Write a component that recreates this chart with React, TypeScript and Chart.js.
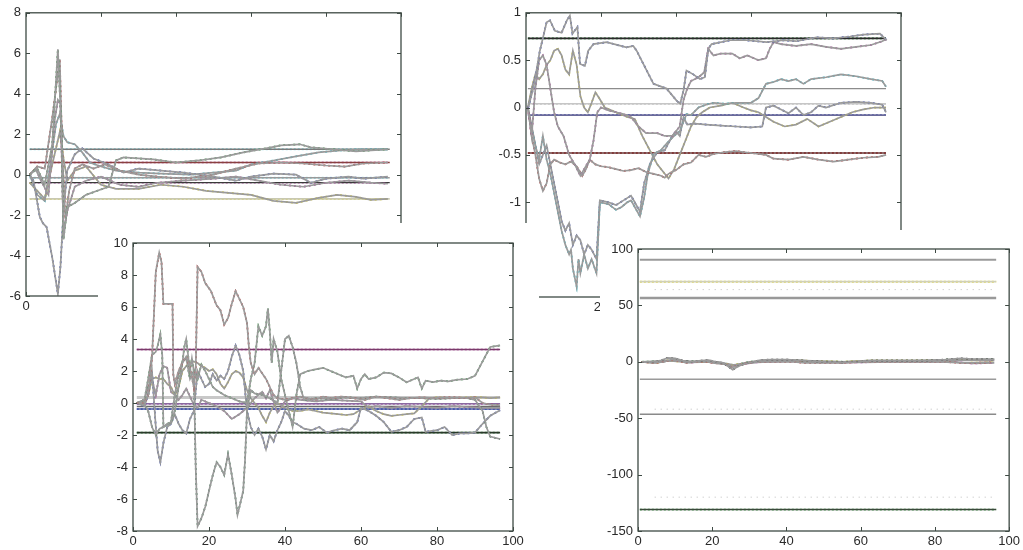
import React, { useEffect, useRef } from "react";
import { Chart, registerables } from "chart.js";

Chart.register(...registerables);

type Pt = [number, number];

// ---------------- Panel 1 (top-left) ----------------
const p1XTicks = [0, 2, 4, 6, 8, 10];
const p1YTicks = [-6, -4, -2, 0, 2, 4, 6, 8];
const p1Truth = [1.25, 0.6, -0.15, -0.4, -1.2];
const p1Span: Pt = [0.1, 9.7];
const p1Green: Pt[] = [[0.1,0],[0.3,0.3],[0.5,-0.5],[0.7,1.5],[0.85,6.2],[0.95,2.0],[1.0,-3.2],[1.1,-1.6],[1.3,-1.4],[1.6,-1.0],[1.9,-0.8],[2.2,-0.6],[2.4,0.7],[2.6,0.85],[3.0,0.8],[3.4,0.75],[4.0,0.6],[4.6,0.7],[5.2,0.85],[5.8,1.1],[6.4,1.3],[6.8,1.45],[7.3,1.5],[7.6,1.35],[8.2,1.25],[8.8,1.15],[9.2,1.2],[9.65,1.25]];
const p1Red: Pt[] = [[0.1,0],[0.3,0.4],[0.5,0.3],[0.7,2.8],[0.9,5.7],[0.97,1.0],[1.05,-2.2],[1.15,-0.8],[1.3,0.3],[1.5,0.5],[1.8,0.3],[2.1,0.5],[2.5,0.2],[3.0,0.0],[3.5,-0.1],[4.2,-0.2],[5.0,0.0],[5.6,0.3],[6.2,0.55],[6.8,0.6],[7.4,0.55],[8.0,0.45],[8.5,0.4],[9.0,0.55],[9.65,0.6]];
const p1Blue: Pt[] = [[0.1,0],[0.2,-0.3],[0.37,-2.1],[0.45,-2.4],[0.55,-2.6],[0.7,-4.1],[0.85,-5.9],[0.92,-4.5],[1.0,-1.8],[1.1,0.2],[1.3,1.0],[1.5,1.3],[1.8,0.8],[2.2,0.5],[2.6,0.1],[3.0,0.3],[3.6,0.2],[4.2,0.1],[5.0,-0.1],[5.6,-0.3],[6.0,-0.1],[6.6,0.05],[7.2,0.0],[7.6,-0.4],[8.0,-0.2],[8.6,-0.1],[9.0,-0.2],[9.65,-0.1]];
const p1Dark: Pt[] = [[0.1,0],[0.25,0.3],[0.4,-0.3],[0.6,-1.0],[0.75,2.5],[0.85,3.7],[0.92,3.5],[1.0,-2.9],[1.1,-1.8],[1.3,-0.6],[1.6,-0.3],[2.0,-0.1],[2.5,-0.5],[3.0,-0.6],[3.5,-0.4],[4.2,-0.3],[5.0,-0.2],[5.6,-0.1],[6.2,-0.3],[6.8,-0.5],[7.4,-0.6],[8.0,-0.4],[8.6,-0.3],[9.2,-0.4],[9.65,-0.45]];
const p1Yellow: Pt[] = [[0.1,-0.4],[0.3,-0.8],[0.5,-1.2],[0.7,0.5],[0.9,2.1],[1.0,0.8],[1.1,-0.3],[1.3,0.2],[1.6,0.4],[2.0,-0.5],[2.4,-0.7],[3.0,-0.7],[3.6,-0.5],[4.2,-0.6],[4.8,-0.8],[5.4,-0.9],[6.0,-1.0],[6.6,-1.3],[7.2,-1.4],[7.8,-1.15],[8.3,-1.0],[8.8,-1.1],[9.2,-1.25],[9.65,-1.2]];
const p1Cyan: Pt[] = [[0.1,0],[0.3,-1.0],[0.5,-1.3],[0.65,0.5],[0.8,2.5],[0.9,3.0],[1.0,1.9],[1.1,1.6],[1.3,1.5],[1.5,1.1],[1.7,0.6],[2.0,0.4],[2.4,0.2],[3.0,0.1],[3.6,0.05],[4.4,0.0],[5.0,0.1],[5.6,0.2],[6.0,0.5],[6.6,0.7],[7.2,0.9],[7.8,1.1],[8.4,1.2],[9.0,1.25],[9.65,1.25]];

// ---------------- Panel 2 (top-right) ----------------
const p2XTicks = [0, 20, 40, 60, 80, 100];
const p2YTicks = [-2, -1.5, -1, -0.5, 0, 0.5, 1];
const p2Truth = [0.73, 0.2, 0.04, -0.08, -0.48];
const p2Span: Pt = [0.5, 96];
const p2Blue: Pt[] = [[0.6,0],[2,0.21],[3.7,0.6],[5.5,0.9],[6.4,0.92],[7.7,0.81],[9.5,0.79],[10.9,0.92],[11.7,0.97],[12.4,0.78],[13.7,0.85],[14.4,0.46],[15.7,0.44],[16.6,0.6],[18,0.67],[21.5,0.69],[26.8,0.635],[28.6,0.65],[29.5,0.6],[32.2,0.39],[34,0.25],[37.5,0.2],[40.2,0.07],[41.1,0.04],[42,0.18],[42.8,0.39],[44.6,0.35],[46.4,0.3],[47.7,0.32],[48.6,0.62],[49.5,0.67],[54.4,0.71],[58.8,0.71],[64.2,0.69],[68.6,0.71],[72,0.7],[77.5,0.74],[82,0.73],[86.4,0.75],[90,0.77],[94.4,0.78],[96.2,0.71]];
const p2Purple: Pt[] = [[0.5,0],[1.5,-0.3],[2.5,0.2],[3.5,0.5],[4.5,0.55],[5.5,0.45],[6.5,0.2],[7.5,-0.05],[8.5,-0.2],[10,-0.3],[11.5,-0.5],[13,-0.6],[14.5,-0.72],[15.5,-0.65],[17,-0.55],[18,-0.35],[19,-0.05],[20,0.0],[22,-0.03],[24,-0.05],[26,-0.07],[28,-0.1],[30,-0.2],[32,-0.27],[35,-0.27],[37,-0.3],[39,-0.3],[40,-0.25],[41,-0.2],[42,0.08],[43,0.2],[44,0.28],[46,0.32],[47.5,0.37],[48.6,0.62],[50,0.55],[52,0.57],[55,0.57],[57,0.52],[59,0.55],[62,0.5],[64,0.52],[65,0.62],[66,0.69],[68,0.67],[72,0.65],[76,0.67],[80,0.64],[84,0.62],[88,0.64],[92,0.66],[95,0.7],[96,0.72]];
const p2Red: Pt[] = [[0.5,0],[1.5,-0.3],[2.5,-0.5],[3.5,-0.75],[4.5,-0.88],[5.5,-0.8],[6.5,-0.6],[7.5,-0.55],[9,-0.58],[10.5,-0.6],[12,-0.57],[13.5,-0.62],[15,-0.72],[16,-0.65],[17,-0.55],[18.5,-0.6],[20,-0.62],[22,-0.63],[24,-0.65],[26,-0.67],[28,-0.66],[30,-0.64],[32,-0.68],[34,-0.7],[36,-0.72],[37,-0.74],[38,-0.7],[40,-0.66],[42,-0.6],[44,-0.58],[46,-0.5],[48,-0.52],[50,-0.49],[53,-0.47],[56,-0.46],[60,-0.48],[64,-0.5],[66,-0.54],[70,-0.55],[74,-0.52],[78,-0.55],[82,-0.57],[86,-0.55],[90,-0.53],[94,-0.52],[96,-0.5]];
const p2Cyan: Pt[] = [[0.5,0],[1.5,-0.2],[2.5,-0.4],[3.5,-0.55],[4.5,-0.3],[5.5,-0.55],[6.5,-0.7],[7.5,-0.9],[8.5,-1.1],[9.5,-1.3],[10.5,-1.45],[11.5,-1.55],[12,-1.5],[12.5,-1.7],[13.5,-1.89],[14,-1.6],[14.5,-1.75],[15.5,-1.55],[16.5,-1.7],[17.5,-1.6],[18.8,-1.75],[19.7,-1.0],[22,-1.02],[24,-1.08],[25.5,-1.05],[27,-1.0],[28,-0.98],[29,-1.05],[30.4,-1.15],[31.5,-0.95],[32.5,-0.7],[34,-0.49],[36,-0.45],[37.5,-0.38],[39.5,-0.3],[41,-0.25],[42.8,-0.07],[44,-0.08],[46,0.0],[48,0.03],[50,0.05],[53,0.04],[56,0.05],[60,0.05],[62,0.1],[64,0.25],[66,0.27],[68,0.3],[70,0.28],[72,0.3],[74,0.25],[76,0.3],[80,0.32],[84,0.35],[88,0.33],[92,0.3],[95,0.28],[96,0.22]];
const p2Green: Pt[] = [[0.5,0],[1.5,-0.2],[2.5,-0.4],[3.5,-0.6],[4.5,-0.5],[5.5,-0.4],[6.5,-0.6],[7.5,-0.8],[8.5,-1.0],[9.5,-1.2],[10.5,-1.3],[11.5,-1.22],[12.5,-1.45],[13.5,-1.35],[14.5,-1.4],[15.5,-1.55],[16.5,-1.45],[17.5,-1.5],[18.8,-1.6],[19.7,-0.98],[22,-1.0],[24,-1.03],[26,-0.98],[28,-0.93],[29,-1.0],[30.4,-1.1],[31.5,-0.8],[33,-0.6],[35,-0.47],[37,-0.45],[39,-0.3],[40,-0.25],[41,-0.3],[42,-0.1],[43,-0.18],[45,-0.17],[48,-0.18],[52,-0.19],[56,-0.2],[60,-0.21],[63,-0.2],[64,0.0],[66,0.02],[68,-0.02],[70,-0.06],[72,0.0],[74,-0.08],[76,-0.05],[78,0.02],[80,0.0],[84,0.05],[88,0.06],[92,0.05],[95,0.03],[96,-0.05]];
const p2Yellow: Pt[] = [[0.5,0],[1.5,0.2],[2.5,0.35],[3.5,0.3],[4.5,0.35],[5.5,0.45],[6.5,0.5],[7.5,0.6],[8.5,0.62],[9.5,0.55],[10.5,0.4],[11.5,0.35],[12.5,0.6],[13.5,0.45],[14.5,0.12],[15.5,0.0],[16.5,-0.05],[17.5,0.05],[18.5,0.16],[19.5,0.1],[21,0.0],[24,-0.05],[27,-0.1],[29,-0.12],[31,-0.3],[33,-0.45],[35,-0.6],[37,-0.7],[38,-0.75],[39.5,-0.65],[41,-0.5],[42.5,-0.35],[44,-0.2],[45.5,-0.1],[47,-0.05],[49,0.0],[52,0.02],[55,0.05],[58,0.0],[60,-0.03],[62,-0.05],[64,-0.1],[66,-0.15],[69,-0.2],[72,-0.18],[75,-0.12],[78,-0.2],[81,-0.15],[84,-0.1],[87,-0.05],[90,-0.02],[93,0.0],[96,0.0]];

// ---------------- Panel 3 (bottom-left) ----------------
const p3XTicks = [0, 20, 40, 60, 80, 100];
const p3YTicks = [-8, -6, -4, -2, 0, 2, 4, 6, 8, 10];
const p3Truth = [3.35, 0.35, -0.05, -0.22, -0.38, -1.85];
const p3Span: Pt = [1, 96.6];
const p3Red: Pt[] = [[1,0],[3,0],[4,0.5],[5,2.8],[5.5,5.5],[6,8.2],[6.9,9.4],[7.5,8.8],[8,6.2],[10.4,6.2],[10.6,1.8],[11,1.2],[12,2.0],[13,2.5],[14,2.9],[15,2.2],[16,1.0],[16.5,2.0],[17,8.5],[18,8.2],[19,7.5],[20.5,7.0],[22,6.1],[23,5.8],[24,4.9],[25,5.3],[26,6.2],[27,7.0],[28,6.5],[29,6.0],[30,5.0],[30.5,3.5],[31,2.5],[32,1.8],[33,2.2],[35,1.5],[36,1.0],[37,0.5],[38,0.3],[40,0.2],[42,0.3],[44,0.4],[46,0.3],[48,0.2],[50,0.4],[52,0.3],[55,0.4],[58,0.3],[61,0.2],[64,0.4],[67,0.3],[70,0.2],[73,0.3],[76,0.35],[79,0.3],[82,0.35],[85,0.35],[88,0.3],[90,0.35],[92,0.0],[94,-0.1],[96.6,-0.15]];
const p3Green: Pt[] = [[1,0],[3,0.2],[4,1.5],[5,3.0],[6,3.2],[6.5,3.6],[7.2,4.3],[7.7,3.0],[8,-1.5],[9,-1.3],[10,-1.2],[11,-0.5],[12,1.0],[13,2.5],[13.5,3.5],[14,4.0],[14.5,3.0],[15,2.0],[15.5,2.8],[16,2.0],[17,1.5],[18,2.4],[19,2.0],[20,1.5],[21,1.0],[22,0.8],[24,0.5],[26,0.3],[28,0.1],[30,0.0],[31,1.5],[32,2.5],[33,4.8],[34,4.2],[35,4.8],[35.5,5.9],[36,4.5],[36.5,2.5],[37,4.0],[38,3.2],[39,1.5],[40,0.5],[41,-0.5],[42,-1.5],[43,0.5],[44,1.8],[46,2.0],[48,2.1],[50,2.2],[52,2.0],[54,1.8],[56,1.6],[58,1.7],[59,0.9],[60,1.5],[61,1.8],[62,1.5],[64,1.6],[66,1.9],[68,1.85],[70,1.6],[72,1.3],[74,1.5],[75,1.6],[76,0.9],[77,1.4],[79,1.3],[81,1.4],[83,1.35],[85,1.45],[88,1.5],[90,1.7],[92,2.6],[94,3.5],[96.6,3.6]];
const p3Gray: Pt[] = [[1,0],[3,-0.1],[4,-0.5],[5,-1.5],[6,-2.0],[7,-1.6],[8,-1.5],[10,-1.2],[11,0.5],[12,1.8],[13,2.6],[14,2.8],[15,1.5],[16,2.0],[16.5,-4.0],[17,-7.7],[18,-7.2],[19,-6.5],[20,-5.5],[21,-4.5],[22,-3.7],[23,-4.0],[24,-4.5],[25,-3.2],[26,-4.5],[27,-6.0],[27.5,-7.0],[28,-6.5],[29,-5.5],[29.5,-3.5],[30,-0.5],[31,0.8],[32,0.6],[34,0.5],[36,0.3],[38,0.0],[40,4.0],[41,4.2],[42,3.5],[43,2.5],[44,1.0],[45,0.2],[48,0.3],[52,0.25],[56,0.35],[60,0.3],[64,0.4],[68,0.35],[72,0.3],[76,0.3],[80,0.25],[84,0.3],[88,0.3],[90,0.2],[92,-0.5],[93,-1.5],[94,-2.1],[96.6,-2.25]];
const p3Blue: Pt[] = [[1,0],[3,-0.2],[4,0.5],[5,2.0],[6,-1.5],[6.5,-3.0],[7.2,-3.7],[8,-2.5],[9,-1.5],[10,-1.3],[11,-0.7],[12,-1.3],[13,-1.7],[14,-1.9],[15,-1.0],[16,-0.5],[17,2.0],[18,1.5],[19,1.0],[20,1.2],[21,1.8],[22,1.4],[23,1.7],[24,1.5],[25,2.0],[26,2.9],[27,3.6],[28,3.0],[29,2.0],[30,-0.5],[31,-1.5],[32,-2.0],[33,-1.6],[34,-2.1],[35,-2.9],[36,-2.0],[37,-2.4],[38,-1.7],[39,-1.2],[40,-0.5],[41,-0.8],[42,-1.2],[43,-1.3],[45,-1.6],[47,-1.7],[49,-1.5],[51,-1.85],[53,-1.7],[55,-1.6],[57,-1.7],[59,-1.2],[60,-0.3],[62,-0.5],[64,-0.8],[66,-1.2],[68,-1.8],[70,-1.7],[72,-1.5],[74,-1.0],[76,-0.9],[77,-1.8],[80,-1.7],[82,-1.5],[84,-2.0],[86,-1.9],[88,-1.9],[90,-1.85],[92,-1.3],[94,-0.8],[96.6,-0.45]];
const p3Yellow: Pt[] = [[1,0],[3,0.1],[4,0.5],[5,1.5],[6,1.6],[7,1.5],[8,1.5],[9,1.2],[10,1.0],[11,0.5],[12,1.0],[13,2.0],[14,2.3],[15,2.5],[16,2.6],[17,2.5],[18,2.3],[19,2.2],[20,2.0],[21,2.1],[22,1.8],[23,1.2],[24,0.9],[25,1.3],[26,1.8],[27,2.0],[28,1.9],[29,1.6],[30,0.8],[31,0.3],[32,0.0],[33,-0.3],[34,-0.8],[35,-1.2],[36,-0.6],[37,-0.2],[38,0.0],[40,-0.3],[42,-0.5],[44,-0.5],[46,-0.4],[48,-0.5],[50,-0.6],[52,-0.65],[54,-0.7],[56,-0.75],[58,-0.7],[60,-0.4],[62,-0.2],[64,-0.5],[66,-0.7],[68,-0.8],[70,-0.75],[72,-0.7],[74,-0.65],[76,-0.2],[78,0.3],[80,0.35],[84,0.3],[88,0.35],[92,0.35],[94,0.3],[96.6,0.35]];
const p3Purple: Pt[] = [[1,0],[3,0.2],[4,1.0],[5,1.5],[6,0.5],[7,1.8],[8,2.3],[9,2.2],[10,0.7],[11,0.5],[12,0.2],[13,0.5],[14,0.9],[15,0.4],[16,-0.1],[17,-0.3],[18,0.2],[20,0.0],[22,-0.2],[24,-0.5],[26,-1.0],[28,-0.7],[30,-0.3],[32,0.3],[34,0.7],[35,0.3],[36,0.8],[37,0.1],[38,-0.6],[39,-0.3],[40,0.1],[42,0.3],[44,0.2],[48,0.1],[52,0.2],[56,0.15],[60,0.1],[62,-0.3],[64,-0.2],[68,-0.3],[72,-0.2],[76,-0.25],[80,-0.3],[84,-0.2],[88,-0.25],[92,-0.3],[96.6,-0.3]];

// ---------------- Panel 4 (bottom-right) ----------------
const p4XTicks = [0, 20, 40, 60, 80, 100];
const p4YTicks = [-150, -100, -50, 0, 50, 100];
const p4Truth = [90.5, 71, 56.5, -15.5, -46.5, -131];
const p4Faint = [64, -42, -120];
const p4Span: Pt = [0.5, 96.5];
const p4Gray: Pt[] = [[1,0],[4,0],[6,1],[8,3.5],[10,3],[12,1],[14,0],[17,1],[19,1.5],[21,0],[23,-1],[25.5,-7],[27,-4],[29,-1.5],[31,0],[33,1.5],[36,2],[40,2],[45,1],[50,0],[55,-0.5],[60,0],[63,1],[70,1],[78,1],[80,1.5],[83,2],[87,3],[90,2.5],[93,2.5],[96,2]];
const p4Red: Pt[] = [[1,0],[4,-1],[7,0],[9,2],[11,1],[13,-1],[16,0],[18,0.5],[20,-1],[23,-2],[25.5,-5],[27,-3],[29,-1.5],[31,-0.5],[33,0],[38,0],[42,0],[45,-1],[50,-1],[55,-1],[58,-0.5],[60,0],[65,0],[75,0],[82,0],[87,-1],[90,-1],[95,-0.5]];
const p4Yellow: Pt[] = [[1,0],[5,-1],[8,1],[12,0],[20,0],[25,-3],[28,-2],[31,0],[35,1],[45,1],[55,0],[62,1],[70,1],[80,1],[86,1.5],[96,1]];
const p4Purple: Pt[] = [[1,0],[6,0],[10,1.5],[14,-0.5],[20,0],[24,-2],[26,-4],[28,-2],[32,-0.5],[40,0.5],[50,-0.5],[60,-0.5],[70,0],[85,0],[90,-1.5],[96,-1]];
const p4Green: Pt[] = [[1,0],[8,1],[15,0.5],[22,-0.5],[26,-3],[30,0],[36,1.5],[40,1.8],[48,0.5],[56,0],[62,1],[74,1],[80,1.5],[84,2],[90,2],[96,2.5]];

// ---------------- rendering ----------------
type Series = { pts: Pt[]; dot: string };
type Truth = { v: number; base: string; dot?: string; w: number };
type Box = { x: number; y: number; w: number; h: number };
type Plot = { l: number; t: number; r: number; b: number };

const FONT = { family: "'Liberation Sans', Arial, sans-serif", size: 13 };

function xy(pts: Pt[]) {
  return pts.map(([x, y]) => ({ x, y }));
}

function buildDatasets(series: Series[], truths: Truth[], span: Pt, faint: number[]) {
  const ds: any[] = [];
  for (const v of faint) {
    ds.push({ data: xy([[span[0] + 4, v], [span[1], v]]), borderColor: "#bdbdbd", borderWidth: 1, borderDash: [1, 5] });
  }
  for (const s of series) {
    ds.push({ data: xy(s.pts), borderColor: "#9a9a9a", borderWidth: 1.7 });
    ds.push({ data: xy(s.pts), borderColor: s.dot, borderWidth: 1.7, borderDash: [2, 3] });
  }
  for (const t of truths) {
    const d = xy([[span[0], t.v], [span[1], t.v]]);
    ds.push({ data: d, borderColor: t.base, borderWidth: t.w });
    if (t.dot) ds.push({ data: d, borderColor: t.dot, borderWidth: t.w, borderDash: [2, 2] });
  }
  return ds.map((d) => ({ ...d, pointRadius: 0, tension: 0, fill: false }));
}

const framePlugin = {
  id: "matlabFrame",
  beforeDraw(chart: any) {
    const { ctx, width, height } = chart;
    ctx.save();
    ctx.fillStyle = "#ffffff";
    ctx.fillRect(0, 0, width, height);
    ctx.restore();
  },
  afterDraw(chart: any) {
    const { ctx, chartArea: a, scales } = chart;
    const xs = scales.x;
    const ys = scales.y;
    ctx.save();
    ctx.strokeStyle = "#3e4a44";
    ctx.lineWidth = 1.3;
    ctx.strokeRect(a.left, a.top, a.right - a.left, a.bottom - a.top);
    ctx.lineWidth = 1;
    ctx.beginPath();
    const L = 4;
    xs.ticks.forEach((t: any) => {
      const p = Math.round(xs.getPixelForValue(t.value)) + 0.5;
      ctx.moveTo(p, a.bottom);
      ctx.lineTo(p, a.bottom - L);
      ctx.moveTo(p, a.top);
      ctx.lineTo(p, a.top + L);
    });
    ys.ticks.forEach((t: any) => {
      const p = Math.round(ys.getPixelForValue(t.value)) + 0.5;
      ctx.moveTo(a.left, p);
      ctx.lineTo(a.left + L, p);
      ctx.moveTo(a.right, p);
      ctx.lineTo(a.right - L, p);
    });
    ctx.stroke();
    ctx.restore();
  },
};

type PanelProps = {
  box: Box;
  plot: Plot;
  xTicks: number[];
  yTicks: number[];
  series: Series[];
  truths: Truth[];
  span: Pt;
  faint?: number[];
  z: number;
};

function Panel({ box, plot, xTicks, yTicks, series, truths, span, faint, z }: PanelProps) {
  const ref = useRef<HTMLCanvasElement | null>(null);
  useEffect(() => {
    if (!ref.current) return;
    const yWidth = plot.l - box.x;
    const xHeight = box.y + box.h - plot.b;
    const chart = new Chart(ref.current, {
      type: "line",
      data: { datasets: buildDatasets(series, truths, span, faint || []) },
      options: {
        animation: false,
        responsive: false,
        devicePixelRatio: 1,
        events: [],
        layout: {
          padding: { left: 0, top: plot.t - box.y, right: box.x + box.w - plot.r, bottom: 0 },
        },
        plugins: { legend: { display: false }, tooltip: { enabled: false } },
        scales: {
          x: {
            type: "linear",
            min: xTicks[0],
            max: xTicks[xTicks.length - 1],
            grid: { display: false, drawTicks: false },
            border: { display: false },
            afterBuildTicks: (s: any) => {
              s.ticks = xTicks.map((v) => ({ value: v }));
            },
            afterFit: (s: any) => {
              s.height = xHeight;
            },
            ticks: {
              autoSkip: false,
              maxRotation: 0,
              padding: 3,
              color: "#2a2a2a",
              font: FONT,
              callback: (v: any) => String(v),
            },
          },
          y: {
            type: "linear",
            min: yTicks[0],
            max: yTicks[yTicks.length - 1],
            grid: { display: false, drawTicks: false },
            border: { display: false },
            afterBuildTicks: (s: any) => {
              s.ticks = yTicks.map((v) => ({ value: v }));
            },
            afterFit: (s: any) => {
              s.width = yWidth;
            },
            ticks: {
              autoSkip: false,
              padding: 5,
              color: "#2a2a2a",
              font: FONT,
              callback: (v: any) => String(v),
            },
          },
        },
      } as any,
      plugins: [framePlugin],
    });
    return () => chart.destroy();
  }, []);
  return (
    <div
      style={{
        position: "absolute",
        left: box.x,
        top: box.y,
        width: box.w,
        height: box.h,
        zIndex: z,
        background: "#fff",
      }}
    >
      <canvas ref={ref} width={box.w} height={box.h} style={{ display: "block" }} />
    </div>
  );
}

export default function App() {
  return (
    <div style={{ position: "absolute", left: 0, top: 0, width: 1023, height: 550, background: "#fff", overflow: "hidden" }}>
      <Panel
        z={1}
        box={{ x: 0, y: 0, w: 440, h: 320 }}
        plot={{ l: 26, t: 12, r: 401, b: 296 }}
        xTicks={p1XTicks}
        yTicks={p1YTicks}
        span={p1Span}
        series={[
          { pts: p1Green, dot: "#1f8a2f" },
          { pts: p1Red, dot: "#c01b1b" },
          { pts: p1Blue, dot: "#1f35b5" },
          { pts: p1Dark, dot: "#a0208f" },
          { pts: p1Yellow, dot: "#e2d400" },
          { pts: p1Cyan, dot: "#10bcd0" },
        ]}
        truths={[
          { v: p1Truth[0], base: "#7a7a7a", dot: "#10bcd0", w: 1.5 },
          { v: p1Truth[1], base: "#8a4040", dot: "#a0208f", w: 1.5 },
          { v: p1Truth[2], base: "#9a9a9a", dot: "#10bcd0", w: 1.5 },
          { v: p1Truth[3], base: "#3a3a3a", dot: "#a0208f", w: 1.3 },
          { v: p1Truth[4], base: "#c8c8b0", dot: "#e2d400", w: 1.6 },
        ]}
      />
      <Panel
        z={2}
        box={{ x: 440, y: 0, w: 583, h: 320 }}
        plot={{ l: 526, t: 12, r: 901, b: 297 }}
        xTicks={p2XTicks}
        yTicks={p2YTicks}
        span={p2Span}
        series={[
          { pts: p2Blue, dot: "#1f35b5" },
          { pts: p2Purple, dot: "#a0208f" },
          { pts: p2Red, dot: "#c01b1b" },
          { pts: p2Cyan, dot: "#10bcd0" },
          { pts: p2Green, dot: "#1f35b5" },
          { pts: p2Yellow, dot: "#e2d400" },
        ]}
        truths={[
          { v: p2Truth[0], base: "#2a2a2a", dot: "#1f8a2f", w: 1.8 },
          { v: p2Truth[1], base: "#8c8c8c", w: 1.3 },
          { v: p2Truth[2], base: "#c6c6c6", dot: "#a8a8a8", w: 1.5 },
          { v: p2Truth[3], base: "#6a6a9a", dot: "#1f35b5", w: 1.6 },
          { v: p2Truth[4], base: "#6a3a3a", dot: "#c01b1b", w: 1.6 },
        ]}
      />
      <Panel
        z={3}
        box={{ x: 98, y: 223, w: 441, h: 327 }}
        plot={{ l: 133, t: 243, r: 513, b: 531 }}
        xTicks={p3XTicks}
        yTicks={p3YTicks}
        span={p3Span}
        series={[
          { pts: p3Red, dot: "#c01b1b" },
          { pts: p3Green, dot: "#1f8a2f" },
          { pts: p3Gray, dot: "#1f6a3a" },
          { pts: p3Blue, dot: "#1f35b5" },
          { pts: p3Yellow, dot: "#e2d400" },
          { pts: p3Purple, dot: "#a0208f" },
        ]}
        truths={[
          { v: p3Truth[0], base: "#7a3a6a", dot: "#a0208f", w: 1.5 },
          { v: p3Truth[1], base: "#c8c8c8", w: 3 },
          { v: p3Truth[2], base: "#8a6aa0", dot: "#a0208f", w: 1.5 },
          { v: p3Truth[3], base: "#6a6a6a", w: 1.3 },
          { v: p3Truth[4], base: "#4a5aa0", dot: "#1f35b5", w: 1.5 },
          { v: p3Truth[5], base: "#2a3a2a", dot: "#1f8a2f", w: 1.6 },
        ]}
      />
      <Panel
        z={4}
        box={{ x: 600, y: 230, w: 423, h: 320 }}
        plot={{ l: 638, t: 249, r: 1011, b: 531 }}
        xTicks={p4XTicks}
        yTicks={p4YTicks}
        span={p4Span}
        faint={p4Faint}
        series={[
          { pts: p4Gray, dot: "#222222" },
          { pts: p4Red, dot: "#d01b1b" },
          { pts: p4Yellow, dot: "#e2d400" },
          { pts: p4Purple, dot: "#c030c0" },
          { pts: p4Green, dot: "#1f8a2f" },
        ]}
        truths={[
          { v: p4Truth[0], base: "#9a9a9a", w: 2 },
          { v: p4Truth[1], base: "#d0d0b8", dot: "#e2d400", w: 1.8 },
          { v: p4Truth[2], base: "#999999", w: 2.4 },
          { v: p4Truth[3], base: "#9a9a9a", w: 1.5 },
          { v: p4Truth[4], base: "#8a8a8a", w: 1.5 },
          { v: p4Truth[5], base: "#3a4a3a", dot: "#1f8a2f", w: 1.6 },
        ]}
      />
    </div>
  );
}
